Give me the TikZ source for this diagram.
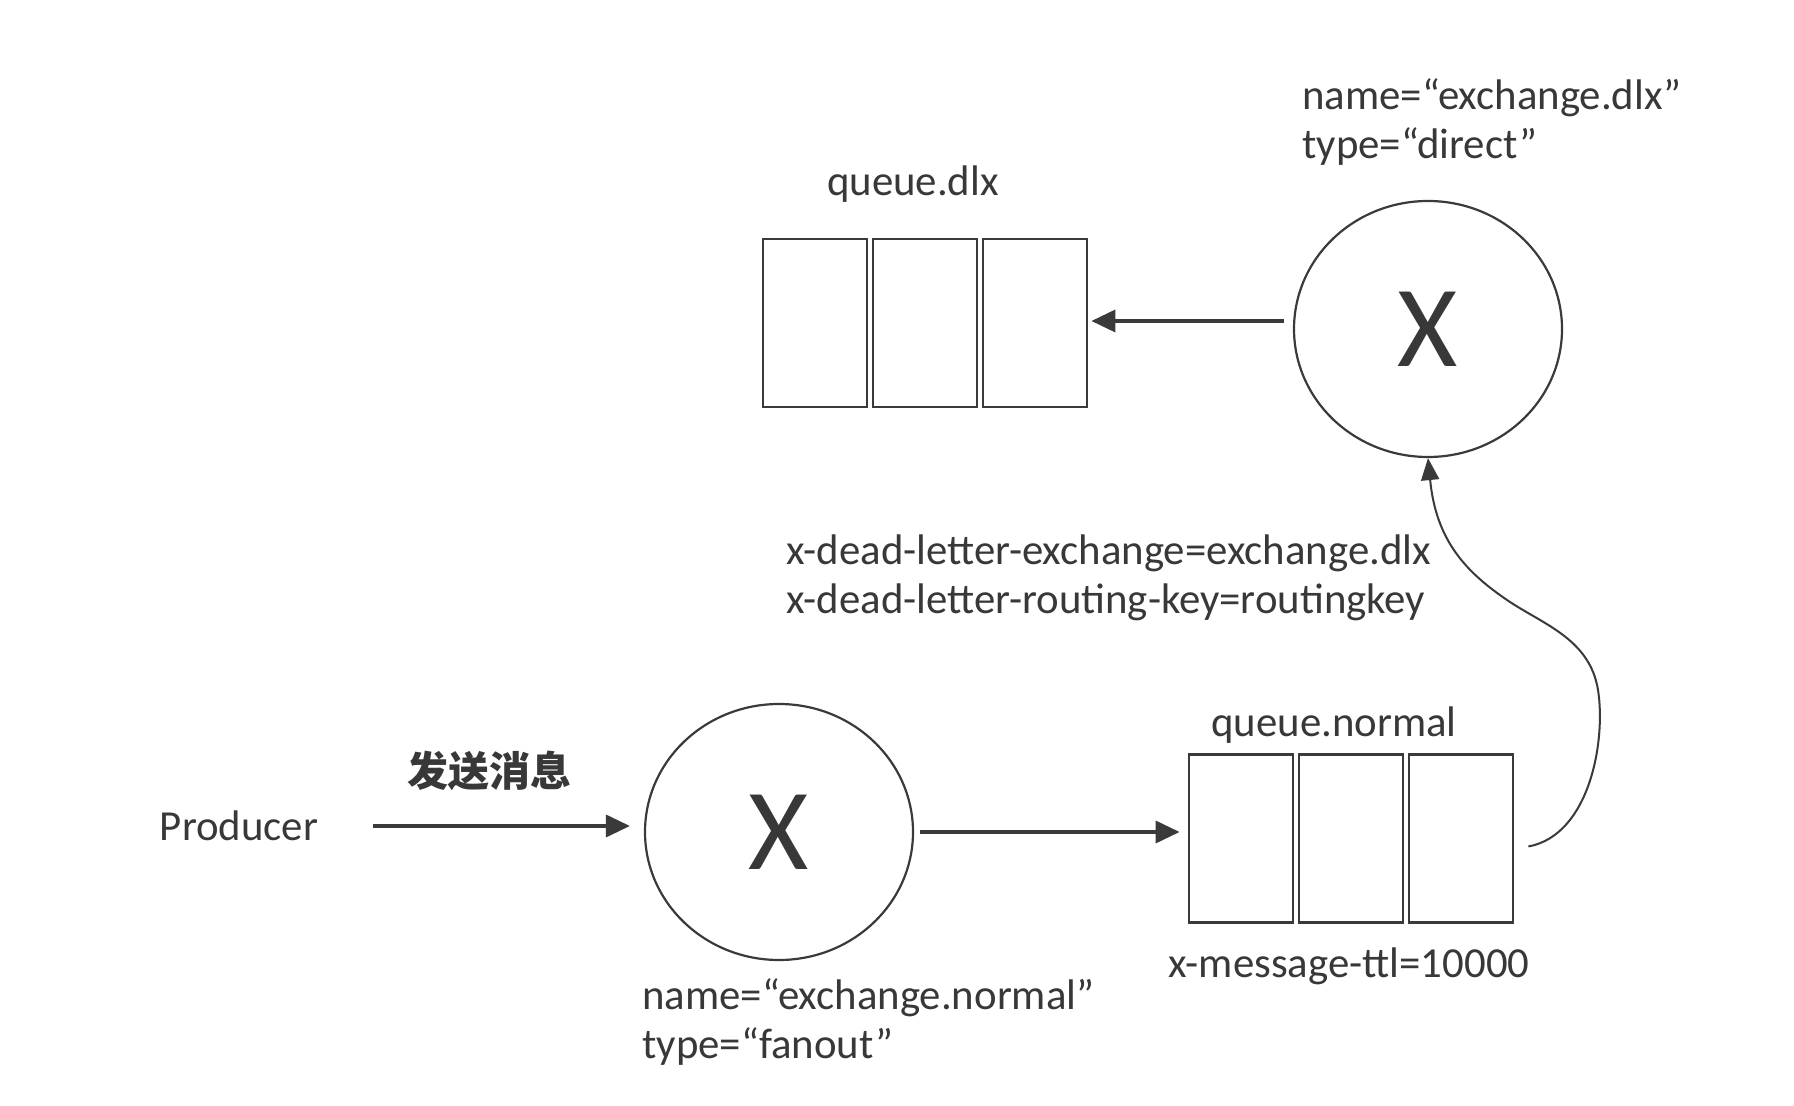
\documentclass[tikz,border=0pt]{standalone}
\usepackage{fontspec}
\setmainfont{Carlito}
\newfontfamily\cjk{Noto Sans CJK SC}
\usetikzlibrary{shapes.geometric,arrows.meta}
\definecolor{txt}{HTML}{383838}
\definecolor{ln}{HTML}{3A3A3A}
\tikzset{
  lbl/.style={inner sep=0pt, text=txt, font=\fontsize{21.4pt}{24.5pt}\selectfont},
  cell/.style={draw=ln, line width=1.4pt, minimum width=52pt, minimum height=84pt, inner sep=0pt},
  exch/.style={draw=ln, line width=1.1pt, ellipse, minimum width=134pt, minimum height=128pt, inner sep=0pt, text=txt, font=\fontsize{58pt}{60pt}\selectfont},
  arr/.style={draw=ln, line width=1.8pt, -{Triangle[length=12pt,width=11pt]}},
  carr/.style={draw=ln, line width=1pt, -{Triangle[length=11pt,width=9pt]}}
}
\begin{document}
\begin{tikzpicture}[x=0.5pt,y=-0.5pt]
\useasboundingbox[fill=white] (0,0) rectangle (1794,1106);

% upper part
\node[lbl] (qdlxlbl) at (913,184) {queue.dlx};
\node[cell] (dq1) at (815,323) {};
\node[cell] (dq2) at (925,323) {};
\node[cell] (dq3) at (1035,323) {};
\node[exch] (dlxx) at (1428,329) {X};
\node[lbl, anchor=west, align=left] (dlxinfo) at (1302,122) {name=“exchange.dlx”\\type=“direct”};

% dead letter args
\node[lbl, anchor=west, align=left] (dlargs) at (786,578) {x-dead-letter-exchange=exchange.dlx\\x-dead-letter-routing-key=routingkey};

% lower part
\node[lbl] (producer) at (239,826) {Producer};
\node[lbl, font=\cjk\bfseries\fontsize{20.5pt}{22pt}\selectfont] (send) at (489,771) {发送消息};
\node[exch] (nx) at (779,832) {X};
\node[lbl, anchor=west, align=left] (nxinfo) at (642,1022) {name=“exchange.normal”\\type=“fanout”};
\node[lbl] (qnlbl) at (1334,725) {queue.normal};
\node[cell] (nq1) at (1241,838.5) {};
\node[cell] (nq2) at (1351,838.5) {};
\node[cell] (nq3) at (1461,838.5) {};
\node[lbl] (ttl) at (1349,966) {x-message-ttl=10000};

% connectors
\draw[arr, shorten <=27pt, shorten >=7pt] (producer.east) -- (producer.east -| nx.west);
\draw[arr, shorten <=3pt, shorten >=4pt] (nx.east) -- (nx.east -| nq1.west);
\draw[arr, shorten <=4.5pt, shorten >=1.5pt] ([yshift=4pt]dlxx.west) -- ([yshift=4pt]dlxx.west -| dq3.east);
\draw[carr] ([xshift=7pt,yshift=-4pt]nq3.east) .. controls (1590,835) and (1606,740) .. (1598,690)
  .. controls (1590,640) and (1545,625) .. (1510,602)
  .. controls (1465,572) and (1436,540) .. (dlxx.south);
\end{tikzpicture}
\end{document}
